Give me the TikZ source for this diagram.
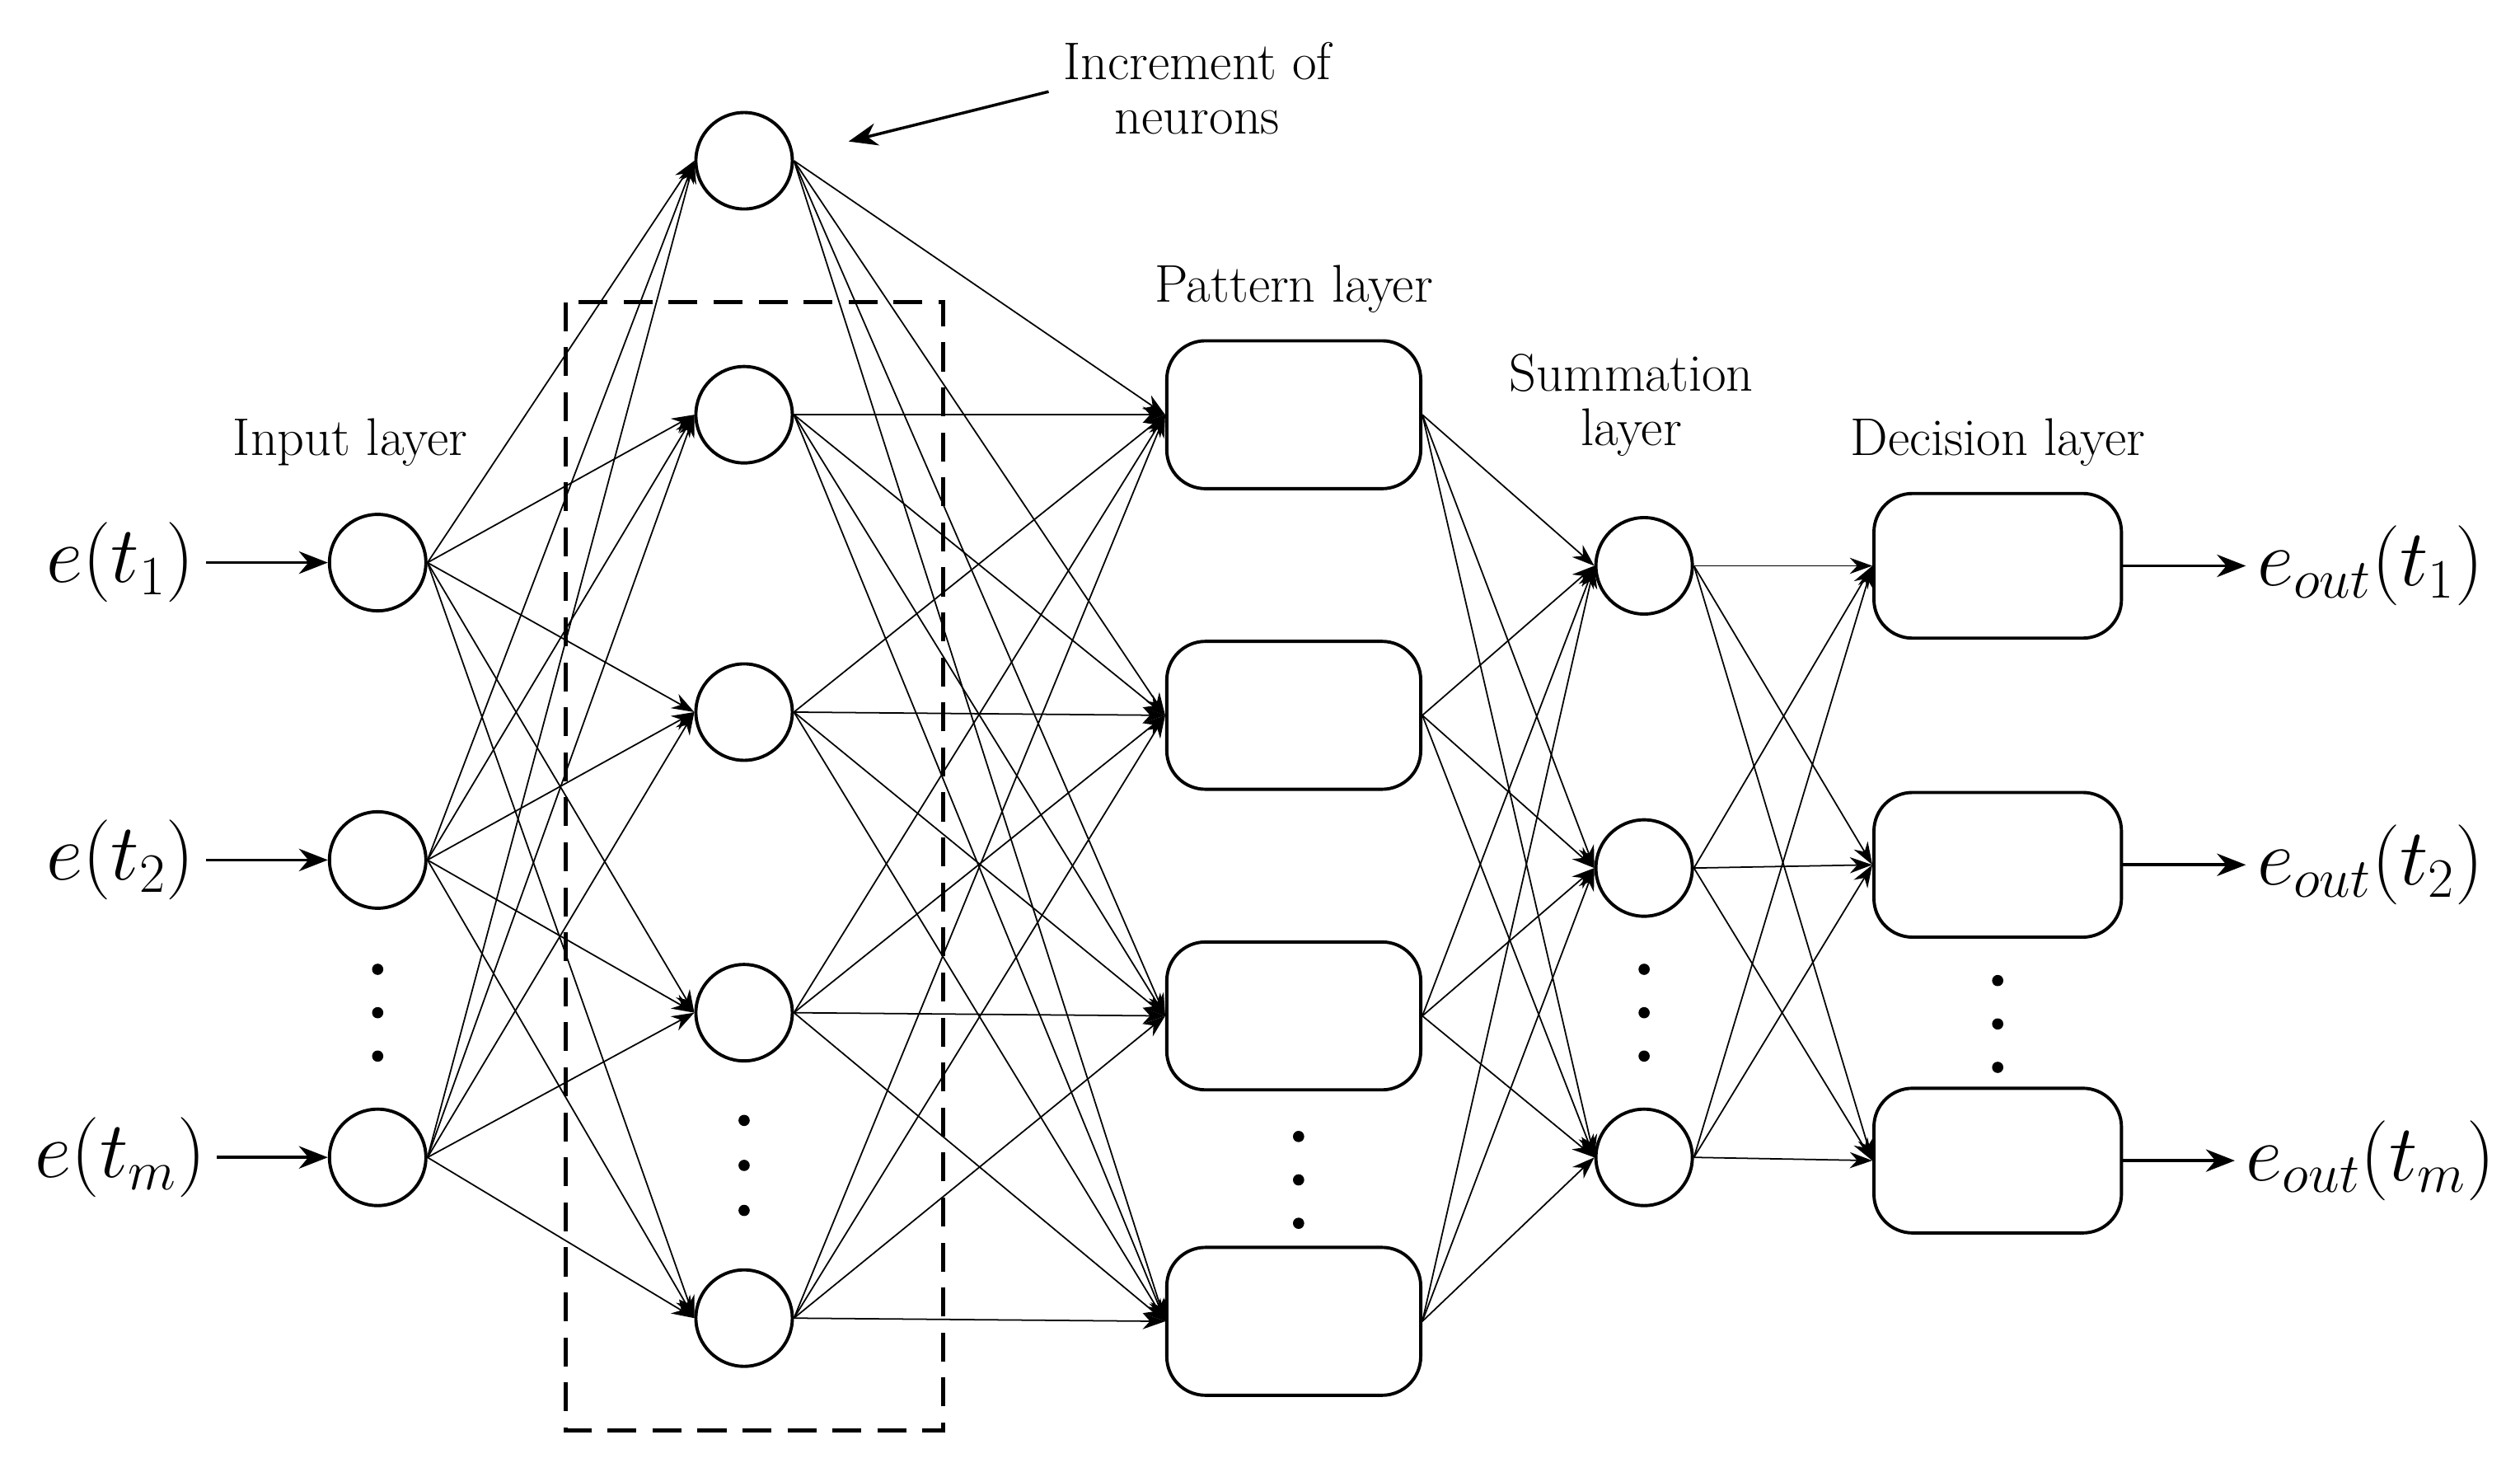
\documentclass[tikz,border=0pt]{standalone}
\usetikzlibrary{arrows.meta}
\begin{document}
\begin{tikzpicture}[x=0.5pt,y=-0.5pt,
  neu/.style={circle,draw,line width=1pt,minimum size=30pt,inner sep=0pt},
  box/.style={rectangle,rounded corners=12pt,draw,line width=1pt,minimum width=79pt,minimum height=46pt},
  con/.style={line width=0.45pt,-{Stealth[length=7pt,width=5pt]}},
  io/.style={line width=0.9pt,-{Stealth[length=9pt,width=7pt]}},
  lab/.style={font=\fontsize{16.5}{17}\selectfont,align=center},
  big/.style={font=\fontsize{27}{30}\selectfont},
  dot/.style={circle,fill,inner sep=0pt,minimum size=3.5pt}]
\useasboundingbox (0,0) rectangle (1568,910);
\foreach \n/\y in {i1/350,i2/535,i3/720} \node[neu] (\n) at (235,\y) {};
\foreach \y in {603,630,657} \node[dot] at (235,\y) {};
\foreach \n/\y in {h0/100,h1/258,h2/443,h3/630,h4/820} \node[neu] (\n) at (463,\y) {};
\foreach \y in {697,725,753} \node[dot] at (463,\y) {};
\foreach \n/\y in {p1/258,p2/445,p3/632,p4/822} \node[box] (\n) at (805,\y) {};
\foreach \y in {707,734,761} \node[dot] at (808,\y) {};
\foreach \n/\y in {s1/352,s2/540,s3/720} \node[neu] (\n) at (1023,\y) {};
\foreach \y in {603,630,657} \node[dot] at (1023,\y) {};
\foreach \n/\y in {d1/352,d2/538,d3/722} \node[box,minimum width=77pt,minimum height=45pt] (d\n) at (1243,\y) {};
\foreach \y in {610,637,664} \node[dot] at (1243,\y) {};
\foreach \a in {i1,i2,i3} \foreach \b in {h0,h1,h2,h3,h4} \draw[con] (\a.east) -- (\b.west);
\foreach \a in {h0,h1,h2,h3,h4} \foreach \b in {p1,p2,p3,p4} \draw[con] (\a.east) -- (\b.west);
\foreach \a in {p1,p2,p3,p4} \foreach \b in {s1,s2,s3} \draw[con] (\a.east) -- (\b.west);
\foreach \a in {s1,s2,s3} \foreach \b in {dd1,dd2,dd3} \draw[con] (\a.east) -- (\b.west);
\draw[line width=1.3pt,dash pattern=on 9pt off 5pt] (352,188) rectangle (587,890);
\node[big] (e1) at (75,350) {$e(t_{1})$};
\node[big] (e2) at (75,535) {$e(t_{2})$};
\node[big] (e3) at (75,720) {$e(t_{m})$};
\draw[io] (e1.east) -- (i1.west);
\draw[io] (e2.east) -- (i2.west);
\draw[io] (e3.east) -- (i3.west);
\node[big] (o1) at (1475,352) {$e_{out}(t_{1})$};
\node[big] (o2) at (1475,538) {$e_{out}(t_{2})$};
\node[big] (o3) at (1475,722) {$e_{out}(t_{m})$};
\draw[io] (dd1.east) -- (o1.west);
\draw[io] (dd2.east) -- (o2.west);
\draw[io] (dd3.east) -- (o3.west);
\node[lab] (inc) at (745,55) {Increment of\\neurons};
\coordinate (inct) at (528,88);
\draw[io] (inc.west) ++(-2,2) -- (inct);
\node[lab] at (805,180) {Pattern layer};
\node[lab] at (218,275) {Input layer};
\node[lab] at (1015,252) {Summation\\layer};
\node[lab] at (1243,275) {Decision layer};
\end{tikzpicture}
\end{document}
